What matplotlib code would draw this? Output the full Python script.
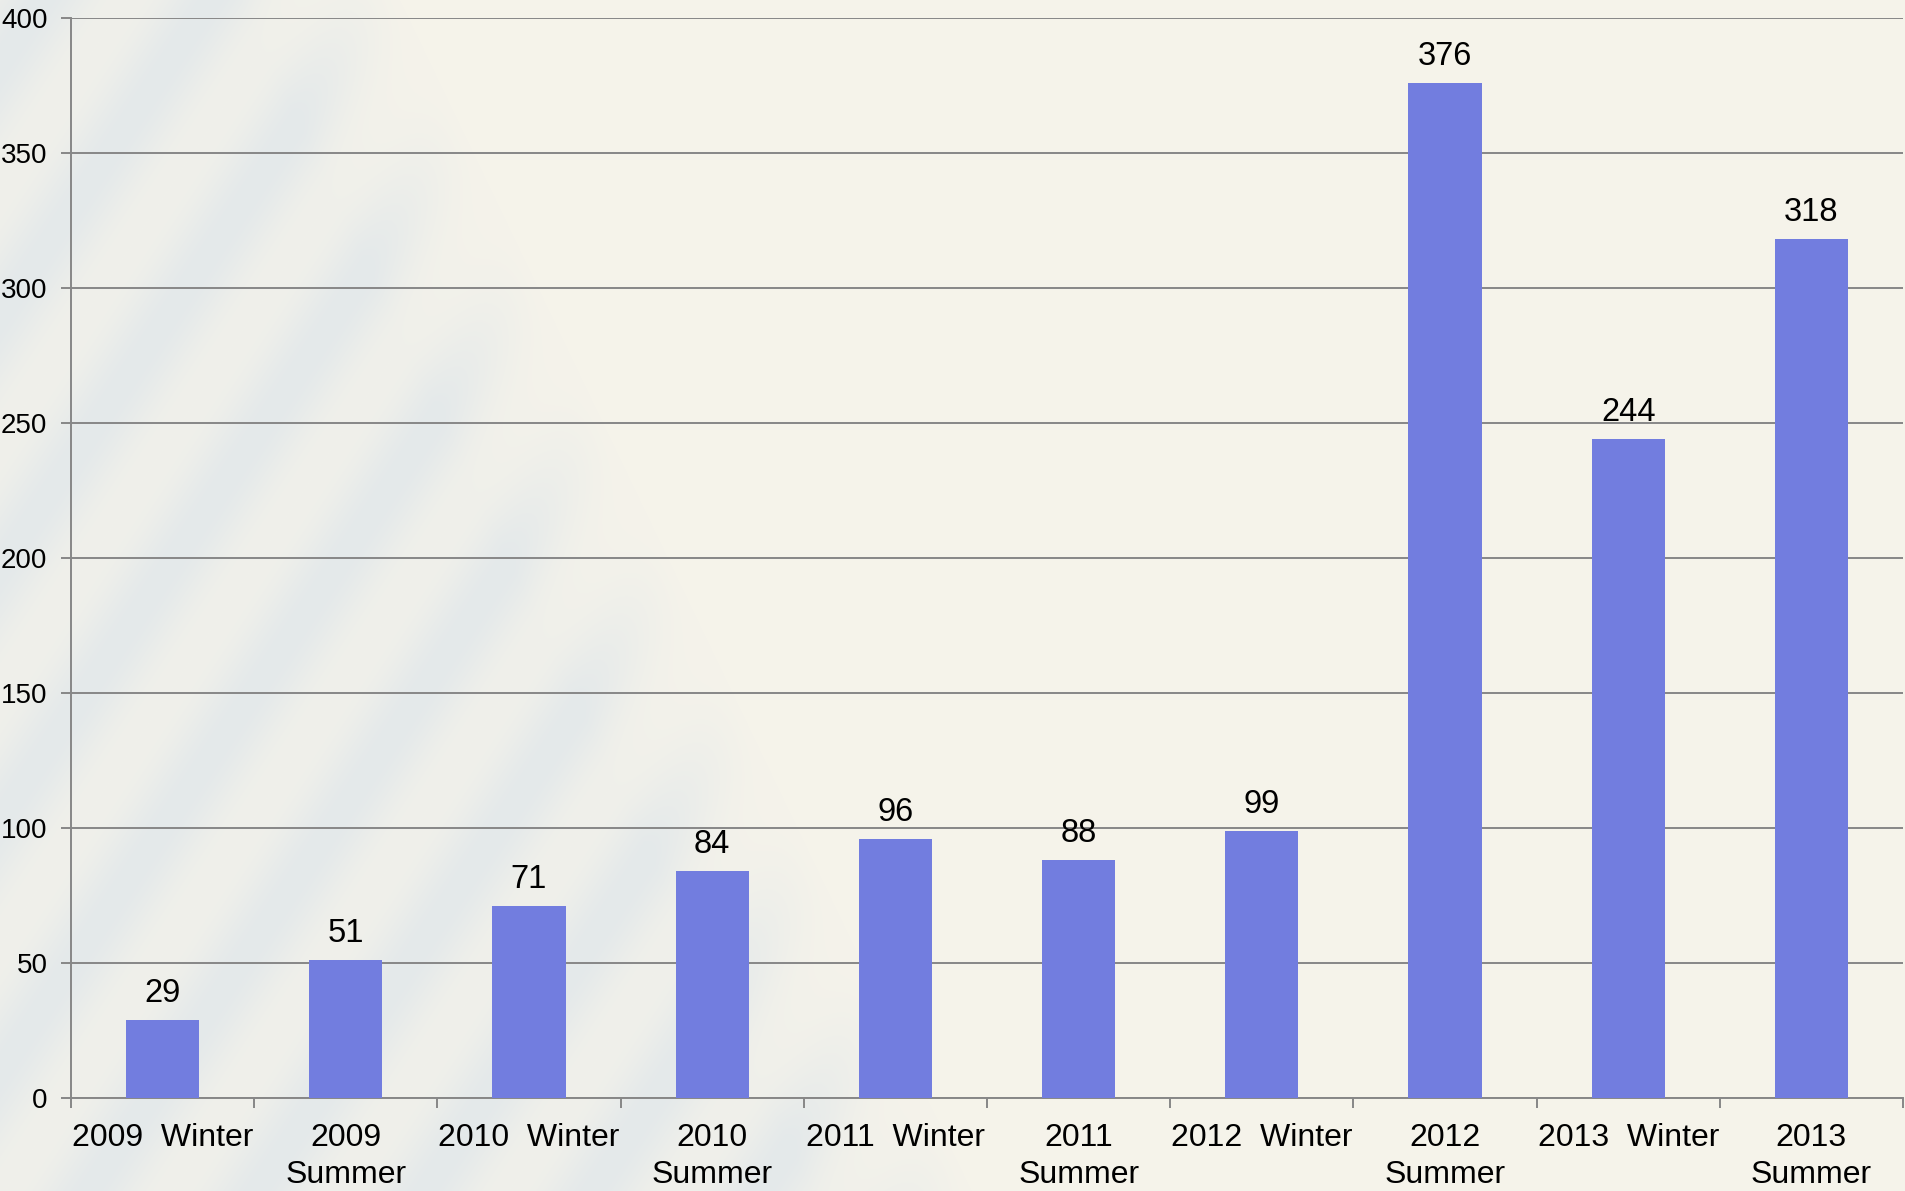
import numpy as np
import matplotlib
matplotlib.use("Agg")
import matplotlib.pyplot as plt

categories = ["2009  Winter", "2009\nSummer", "2010  Winter", "2010\nSummer",
              "2011  Winter", "2011\nSummer", "2012  Winter", "2012\nSummer",
              "2013  Winter", "2013\nSummer"]
values = [29, 51, 71, 84, 96, 88, 99, 376, 244, 318]
y_ticks = [0, 50, 100, 150, 200, 250, 300, 350, 400]

W, H, DPI = 1905, 1191, 100
plt.rcParams['font.family'] = ['Liberation Sans', 'DejaVu Sans']

fig = plt.figure(figsize=(W / DPI, H / DPI), dpi=DPI)

# background texture (decorative): beige paper with bluish diagonal streaks on the left
yy, xx = np.mgrid[0:H, 0:W].astype(float)
beige = np.array([245, 243, 234]) / 255.0
blue = np.array([228, 233, 235]) / 255.0
u = (1.5 * xx + yy) / 1.8
stripe = 0.5 + 0.5 * np.sin(2 * np.pi * u / 140.0)
stripe = stripe ** 1.3
limit = 400 + 0.48 * yy
region = np.clip((limit - xx) / 160.0, 0, 1)
w = np.clip(0.3 * region + 0.7 * region * stripe, 0, 1)
img = beige[None, None, :] * (1 - w[..., None]) + blue[None, None, :] * w[..., None]
bg = fig.add_axes([0, 0, 1, 1], zorder=-10)
bg.imshow(img, aspect='auto', extent=[0, 1, 0, 1], origin='upper', interpolation='bilinear')
bg.set_axis_off()

ax = fig.add_axes([71 / W, 1 - 1098 / H, (1903 - 71) / W, (1098 - 18) / H])
ax.patch.set_alpha(0)

x = np.arange(len(categories))
ax.bar(x, values, width=0.4, color='#727DDF', zorder=3)
for xi, v in zip(x, values):
    ax.annotate(str(v), (xi, v), xytext=(0, 13), textcoords='offset points',
                ha='center', va='baseline', fontsize=23.5, color='black', zorder=4)

ax.set_xlim(-0.5, len(categories) - 0.5)
ax.set_ylim(0, 400)
ax.set_yticks(y_ticks)
ax.set_yticklabels([str(t) for t in y_ticks], fontsize=20)
ax.yaxis.grid(True, color='#878787', linewidth=1.4, zorder=1)
ax.set_axisbelow(True)

ax.set_xticks(x)
ax.set_xticklabels(categories, fontsize=23, linespacing=1.3)
ax.set_xticks(np.arange(-0.5, len(categories) + 0.5, 1), minor=True)
ax.tick_params(axis='x', which='major', length=0, pad=18)
ax.tick_params(axis='x', which='minor', length=7, width=1.4, color='#878787')
ax.tick_params(axis='y', length=7, width=1.4, color='#878787', pad=10)

for s in ['top', 'right']:
    ax.spines[s].set_visible(False)
for s in ['left', 'bottom']:
    ax.spines[s].set_color('#878787')
    ax.spines[s].set_linewidth(1.4)

fig.savefig('out.png', dpi=DPI)
